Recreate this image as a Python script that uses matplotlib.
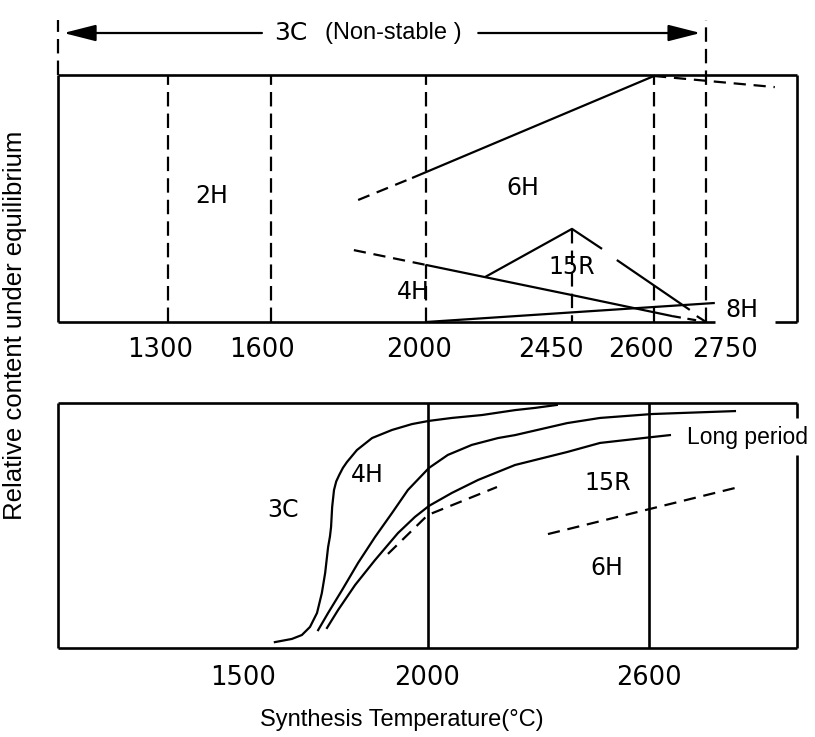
import numpy as np
import matplotlib
matplotlib.use("Agg")
import matplotlib.pyplot as plt
from matplotlib.patches import FancyArrowPatch

# ---------------- data: upper panel (schematic, temperatures in degC) ----------------
TOP_TICKS = [1300, 1600, 2000, 2450, 2600, 2750]
TOP_BOUNDARIES = [1300, 1600, 2000, 2600]          # full-height dashed boundaries
LIMIT_T = 2750                                      # upper limit of 3C range
# schematic axis is not linear: label temperature -> drawn position
SCALE_TEMPS = [1000, 1300, 1600, 2000, 2450, 2600, 2750, 3000]
SCALE_POS = [1000, 1298, 1576, 1996, 2391, 2613, 2754, 3000]

six_h_dash_T = [1825, 1964]
six_h_dash_y = [0.494, 0.583]
six_h_T = [1964, 2600]
six_h_y = [0.583, 0.996]
six_h_tail_T = [2600, 2939]
six_h_tail_y = [0.996, 0.951]

four_h_dash_T = [1814, 2000]
four_h_dash_y = [0.291, 0.231]
four_h_T = [2000, 2450, 2652]
four_h_y = [0.231, 0.109, 0.024]
four_h_tail_T = [2652, 2750]
four_h_tail_y = [0.024, 0.0]

r15_left_T = [2182, 2450, 2505]
r15_left_y = [0.182, 0.377, 0.296]
r15_right_T = [2532, 2703]
r15_right_y = [0.251, 0.049]
r15_tip_T = [2723, 2750]
r15_tip_y = [0.024, 0.0]
r15_axis_T = [2450, 2450]
r15_axis_y = [0.377, 0.0]

eight_h_T = [2000, 2774]
eight_h_y = [0.0, 0.077]

TOP_LABELS = ["2H", "6H", "15R", "4H", "8H"]
TOP_LABEL_T = [1428, 2298, 2450, 1967, 2849]
TOP_LABEL_Y = [0.51, 0.543, 0.223, 0.121, 0.049]

ARROW_T = [1000, 2750]

# ---------------- data: lower panel ----------------
BOTTOM_TICKS = [1500, 2000, 2600]
BOTTOM_LINES = [2000, 2600]

c3c_T = [1587, 1633, 1660, 1682, 1701, 1714, 1723, 1731, 1736, 1739, 1742, 1747, 1753, 1761,
         1771, 1782, 1809, 1850, 1904, 1958, 2004, 2066, 2148, 2237, 2291, 2350]
c3c_y = [0.024, 0.037, 0.053, 0.086, 0.143, 0.224, 0.306, 0.412, 0.455, 0.494, 0.576, 0.645,
         0.680, 0.706, 0.735, 0.759, 0.808, 0.857, 0.890, 0.914, 0.927, 0.939, 0.951, 0.971,
         0.980, 0.992]

c4h_T = [1704, 1731, 1769, 1812, 1858, 1904, 1947, 2004, 2055, 2120, 2191, 2237,
         2378, 2467, 2608, 2832]
c4h_y = [0.073, 0.143, 0.237, 0.347, 0.453, 0.551, 0.645, 0.735, 0.788, 0.829, 0.857, 0.869,
         0.918, 0.939, 0.955, 0.967]

c15r_T = [1728, 1758, 1804, 1858, 1920, 1966, 2004, 2066, 2137, 2237, 2378, 2467, 2608, 2656]
c15r_y = [0.082, 0.155, 0.257, 0.359, 0.469, 0.535, 0.580, 0.633, 0.686, 0.747, 0.800,
          0.837, 0.861, 0.869]

d6h_left_T = [1893, 2001, 2188]
d6h_left_y = [0.384, 0.543, 0.657]
d6h_right_T = [2326, 2832]
d6h_right_y = [0.465, 0.653]

BOTTOM_LABELS = ["3C", "4H", "15R", "6H"]
BOTTOM_LABEL_T = [1609, 1836, 2489, 2486]
BOTTOM_LABEL_Y = [0.563, 0.706, 0.673, 0.327]
LONG_PERIOD_T, LONG_PERIOD_Y = 2702, 0.861

# ---------------- styling / layout ----------------
W, H = 815, 737
LW_FRAME = 1.9
LW = 1.6
DASH = (0, (6.5, 3.2))
DASH2 = (0, (5.5, 3.5))
GOTHIC = "DejaVu Sans"
ARIAL = "Liberation Sans"
TOP_TICK_DX = [-8, -9, -7, -21, -13, 19]   # pixel offsets of tick labels

fig = plt.figure(figsize=(W / 100, H / 100), dpi=100)
ax1 = fig.add_axes([58 / W, 1 - 322 / H, 739 / W, 247 / H])
ax2 = fig.add_axes([58 / W, 1 - 648 / H, 739 / W, 245 / H])


def fwd(t):
    return np.interp(t, SCALE_TEMPS, SCALE_POS)


def inv(p):
    return np.interp(p, SCALE_POS, SCALE_TEMPS)


for ax in (ax1, ax2):
    for s in ax.spines.values():
        s.set_visible(False)
    ax.set_ylim(0, 1)
    ax.set_yticks([])
    ax.patch.set_alpha(0)

# ---------- upper panel ----------
ax1.set_xscale("function", functions=(fwd, inv))
ax1.set_xlim(1000, 3000)
ax1.set_xticks([])
ax1.set_ylim(0, 1)

k = dict(color="black", solid_capstyle="butt", dash_capstyle="butt")
tA = ax1.transAxes
ax1.plot([0, 1], [1, 1], transform=tA, lw=LW_FRAME, clip_on=False, **k)
ax1.plot([0, 0], [0, 1], transform=tA, lw=LW_FRAME, clip_on=False, **k)
ax1.plot([1, 1], [0, 1], transform=tA, lw=LW_FRAME, clip_on=False, **k)
ax1.plot([0, 0.889], [0, 0], transform=tA, lw=LW_FRAME, clip_on=False, **k)
ax1.plot([0.970, 1], [0, 0], transform=tA, lw=LW_FRAME, clip_on=False, **k)
# left extension of the 3C range
ax1.plot([0, 0], [1, 1.223], transform=tA, lw=LW, ls=DASH, clip_on=False, **k)

for t in TOP_BOUNDARIES:
    ax1.plot([t, t], [0, 1], lw=LW, ls=DASH, **k)
ax1.plot([LIMIT_T, LIMIT_T], [0, 1.223], lw=LW, ls=DASH, clip_on=False, **k)

ax1.plot(six_h_dash_T, six_h_dash_y, lw=LW, ls=DASH2, **k)
ax1.plot(six_h_T, six_h_y, lw=LW, **k)
ax1.plot(six_h_tail_T, six_h_tail_y, lw=LW, ls=DASH2, **k)
ax1.plot(four_h_dash_T, four_h_dash_y, lw=LW, ls=DASH2, **k)
ax1.plot(four_h_T, four_h_y, lw=LW, **k)
ax1.plot(four_h_tail_T, four_h_tail_y, lw=LW, ls=(0, (4, 3)), **k)
ax1.plot(r15_left_T, r15_left_y, lw=LW, **k)
ax1.plot(r15_right_T, r15_right_y, lw=LW, **k)
ax1.plot(r15_tip_T, r15_tip_y, lw=LW, **k)
ax1.plot(r15_axis_T, r15_axis_y, lw=LW, ls=DASH, **k)
ax1.plot(eight_h_T, eight_h_y, lw=LW, **k)

for lab, t, y in zip(TOP_LABELS, TOP_LABEL_T, TOP_LABEL_Y):
    ax1.text(t, y, lab, ha="center", va="center", fontsize=17, family=GOTHIC)

for t, dx in zip(TOP_TICKS, TOP_TICK_DX):
    ax1.annotate(str(t), xy=(t, 0), xytext=(dx, -28), textcoords="offset pixels",
                 ha="center", va="center", fontsize=18.5, family=GOTHIC,
                 annotation_clip=False)

# double arrow "3C (Non-stable)"
y_arrow = 1.17
left_gap_T, right_gap_T = 1574, 2161
for a, b in ((left_gap_T, ARROW_T[0]), (right_gap_T, ARROW_T[1])):
    arr = FancyArrowPatch((a, y_arrow), (b, y_arrow),
                          arrowstyle="-|>,head_length=1.1,head_width=0.28",
                          mutation_scale=18, lw=LW, color="black",
                          shrinkA=0, shrinkB=4, clip_on=False)
    ax1.add_patch(arr)
ax1.text(1652, y_arrow, "3C", ha="center", va="center", fontsize=18, family=GOTHIC,
         clip_on=False)
ax1.text(1915, y_arrow, "(Non-stable )", ha="center", va="center", fontsize=17,
         family=ARIAL, clip_on=False)

# ---------- lower panel ----------
ax2.set_xlim(1000, 3000)
tB = ax2.transAxes
ax2.plot([0, 1], [1, 1], transform=tB, lw=LW_FRAME, clip_on=False, **k)
ax2.plot([0, 1], [0, 0], transform=tB, lw=LW_FRAME, clip_on=False, **k)
ax2.plot([0, 0], [0, 1], transform=tB, lw=LW_FRAME, clip_on=False, **k)
ax2.plot([1, 1], [0.939, 1], transform=tB, lw=LW_FRAME, clip_on=False, **k)
ax2.plot([1, 1], [0, 0.788], transform=tB, lw=LW_FRAME, clip_on=False, **k)

for t in BOTTOM_LINES:
    ax2.plot([t, t], [0, 1], lw=LW_FRAME, **k)

ax2.plot(c3c_T, c3c_y, lw=LW, solid_joinstyle="round", color="black")
ax2.plot(c4h_T, c4h_y, lw=LW, solid_joinstyle="round", color="black")
ax2.plot(c15r_T, c15r_y, lw=LW, solid_joinstyle="round", color="black")
ax2.plot(d6h_left_T, d6h_left_y, lw=LW, ls=DASH2, **k)
ax2.plot(d6h_right_T, d6h_right_y, lw=LW, ls=DASH2, **k)

for lab, t, y in zip(BOTTOM_LABELS, BOTTOM_LABEL_T, BOTTOM_LABEL_Y):
    ax2.text(t, y, lab, ha="center", va="center", fontsize=17, family=GOTHIC)
ax2.text(LONG_PERIOD_T, LONG_PERIOD_Y, "Long period", ha="left", va="center",
         fontsize=16.5, family=ARIAL, clip_on=False)

ax2.set_xticks(BOTTOM_TICKS)
ax2.set_xticklabels([str(t) for t in BOTTOM_TICKS], fontsize=18.5, family=GOTHIC)
ax2.tick_params(axis="x", length=0, pad=12)

# ---------- axis titles ----------
fig.text(15 / W, 1 - 325 / H, "Relative content under equilibrium", rotation=90,
         ha="center", va="center", fontsize=18.5, family=ARIAL)
fig.text(402 / W, 1 - 720 / H, "Synthesis Temperature(\u00b0C)", ha="center",
         va="center", fontsize=17, family=ARIAL)

fig.savefig("out.png", dpi=100, facecolor="white")
